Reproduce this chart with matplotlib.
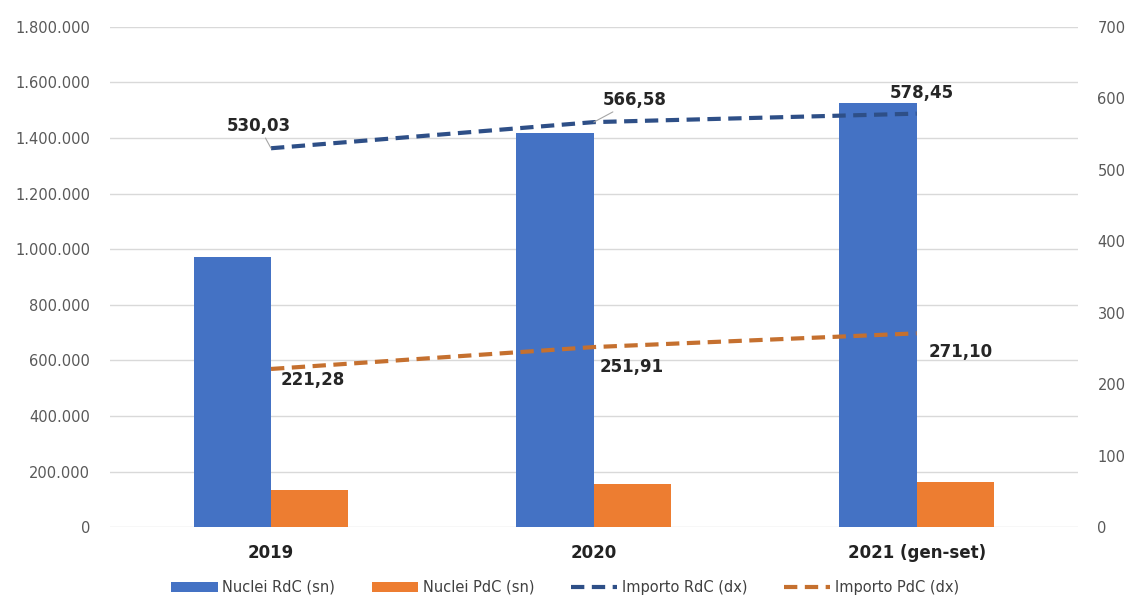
import matplotlib
matplotlib.use("Agg")
import matplotlib.pyplot as plt
from matplotlib.ticker import FuncFormatter
import numpy as np

# data
categories = ["2019", "2020", "2021 (gen-set)"]
nuclei_rdc = [972000, 1418000, 1526000]
nuclei_pdc = [133000, 155000, 162000]
importo_rdc = [530.03, 566.58, 578.45]
importo_pdc = [221.28, 251.91, 271.10]

blue = "#4472C4"
orange = "#ED7D31"
blue_dark = "#2E4F87"
orange_dark = "#C5702F"

fig = plt.figure(figsize=(11.3, 6.08), dpi=100)
ax = fig.add_axes([0.097, 0.133, 0.857, 0.823])
ax2 = ax.twinx()

x = np.arange(len(categories))
w = 0.24
b1 = ax.bar(x - w / 2, nuclei_rdc, w, color=blue, label="Nuclei RdC (sn)", zorder=2)
b2 = ax.bar(x + w / 2, nuclei_pdc, w, color=orange, label="Nuclei PdC (sn)", zorder=2)

ax.set_xlim(-0.5, 2.5)
ax.set_ylim(0, 1800000)
ax.set_yticks(np.arange(0, 1800001, 200000))
ax.yaxis.set_major_formatter(FuncFormatter(lambda v, p: f"{int(v):,}".replace(",", ".")))
ax.grid(axis="y", color="#d9d9d9", linewidth=1, zorder=0)
ax.set_axisbelow(True)
ax.set_xticks(x)
ax.set_xticklabels(categories, fontsize=12, fontweight="bold", color="#222222")
ax.tick_params(axis="x", length=0, pad=12)
ax.tick_params(axis="y", length=0, labelsize=10.5, labelcolor="#595959", pad=14)
for s in ax.spines.values():
    s.set_visible(False)
for s in ax2.spines.values():
    s.set_visible(False)

dash = (0, (3.2, 1.8))
l1, = ax2.plot(x, importo_rdc, color=blue_dark, linestyle=dash, linewidth=3,
               label="Importo RdC (dx)", zorder=3)
l2, = ax2.plot(x, importo_pdc, color=orange_dark, linestyle=dash, linewidth=3,
               label="Importo PdC (dx)", zorder=3)
ax2.set_ylim(0, 700)
ax2.set_yticks(np.arange(0, 701, 100))
ax2.tick_params(axis="y", length=0, labelsize=10.5, labelcolor="#595959", pad=14)

fmt = lambda v: f"{v:.2f}".replace(".", ",")
# label offsets in pixels from the data point
rdc_off = [(-12, 22), (41, 22), (5, 21)]
pdc_off = [(42, -11), (38, -20), (44, -19)]
for i, v in enumerate(importo_rdc):
    ax2.annotate(fmt(v), xy=(x[i], v), xytext=rdc_off[i], textcoords="offset pixels",
                 ha="center", va="center", fontsize=12, fontweight="bold", color="#262626",
                 arrowprops=dict(arrowstyle="-", color="#a6a6a6", lw=0.8,
                                 shrinkA=0, shrinkB=0) if i < 2 else None)
for i, v in enumerate(importo_pdc):
    ax2.annotate(fmt(v), xy=(x[i], v), xytext=pdc_off[i], textcoords="offset pixels",
                 ha="center", va="center", fontsize=12, fontweight="bold", color="#262626")

fig.legend(handles=[b1, b2, l1, l2], loc="lower center", ncol=4, frameon=False,
           bbox_to_anchor=(0.5, 0.0), fontsize=10.5, handlelength=3.2, columnspacing=2.5,
           handletextpad=0.3, labelcolor="#404040")

fig.savefig("out.png", dpi=100)
